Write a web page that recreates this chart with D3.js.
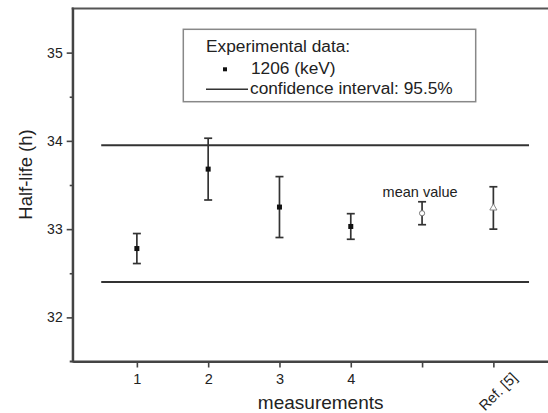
<!DOCTYPE html>
<html><head><meta charset="utf-8">
<script src="https://cdn.jsdelivr.net/npm/d3@7"></script>
<style>body{margin:0;background:#fff}svg{display:block}text{font-family:"Liberation Sans",Arial,sans-serif;fill:#222}</style>
</head><body><svg id="c" width="548" height="413"></svg>
<script>
// data
const measX = [1, 2, 3, 4];
const measY = [32.78, 33.68, 33.25, 33.03];
const measErr = [0.17, 0.35, 0.345, 0.145];
const meanX = [5]; const meanY = [33.18]; const meanErr = [0.13];
const refX = [6]; const refY = [33.24]; const refErr = [0.24];
const ciLevels = [33.95, 32.40];
const ciRange = [0.5, 6.5];
const xTickVals = [1, 2, 3, 4, 5, 6];
const xTickLabels = ["1", "2", "3", "4", "", "Ref. [5]"];
const yTickVals = [32, 33, 34, 35];
const yMinorVals = [32.5, 33.5, 34.5];

const svg = d3.select("#c");
const L = 72.7, T = 8.5, B = 361.5;
const x = d3.scaleLinear().domain([0.1, 6.9]).range([L, L + 6.8 * 71.3]);
const y = d3.scaleLinear().domain([31.5, 35.5]).range([B, T]);
const axCol = "#444";

// top frame
svg.append("line").attr("x1", L - 1).attr("x2", 560).attr("y1", T).attr("y2", T)
  .attr("stroke", "#555").attr("stroke-width", 2);

// y axis
const ya = svg.append("g").attr("transform", `translate(${L},0)`)
  .call(d3.axisLeft(y).tickValues(yTickVals).tickFormat(d3.format("d")).tickSize(6).tickSizeOuter(0).tickPadding(4));
ya.select(".domain").attr("stroke", axCol).attr("stroke-width", 2);
ya.selectAll(".tick line").attr("stroke", axCol).attr("stroke-width", 1.6);
ya.selectAll("text").style("font-size", "14px").attr("fill", "#333");
const ym = svg.append("g").attr("transform", `translate(${L},0)`)
  .call(d3.axisLeft(y).tickValues(yMinorVals).tickFormat("").tickSize(3).tickSizeOuter(0));
ym.select(".domain").remove();
ym.selectAll(".tick line").attr("stroke", axCol).attr("stroke-width", 1.6);
svg.append("line").attr("x1", L).attr("x2", L).attr("y1", T - 1).attr("y2", B + 1)
  .attr("stroke", axCol).attr("stroke-width", 2);

// x axis
const xa = svg.append("g").attr("transform", `translate(0,${B})`)
  .call(d3.axisBottom(x).tickValues(xTickVals).tickFormat((d, i) => xTickLabels[i]).tickSize(6).tickSizeOuter(0).tickPadding(6));
xa.select(".domain").attr("stroke", axCol).attr("stroke-width", 2);
xa.selectAll(".tick line").attr("stroke", axCol).attr("stroke-width", 1.6);
xa.selectAll("text").style("font-size", "14.5px").attr("fill", "#333");
xa.selectAll(".tick").filter(d => d === 6).select("text")
  .attr("text-anchor", "middle").attr("y", 0).attr("dy", "0.35em")
  .attr("transform", "translate(4,30) rotate(-45)");
svg.append("line").attr("x1", L - 3).attr("x2", 560).attr("y1", B).attr("y2", B)
  .attr("stroke", axCol).attr("stroke-width", 2);

// axis titles
svg.append("text").attr("x", 320.7).attr("y", 409).attr("text-anchor", "middle")
  .style("font-size", "19px").text("measurements");
svg.append("text").attr("transform", "translate(32,174.5) rotate(-90)").attr("text-anchor", "middle")
  .style("font-size", "18.5px").text("Half-life (h)");

// confidence lines
ciLevels.forEach(v => {
  svg.append("line").attr("x1", x(ciRange[0])).attr("x2", x(ciRange[1]))
    .attr("y1", y(v)).attr("y2", y(v)).attr("stroke", "#333").attr("stroke-width", 2);
});

function errBars(xs, ys, es, col) {
  xs.forEach((xv, i) => {
    const cx = x(xv), top = y(ys[i] + es[i]), bot = y(ys[i] - es[i]);
    svg.append("line").attr("x1", cx).attr("x2", cx).attr("y1", top).attr("y2", bot).attr("stroke", col).attr("stroke-width", 1.7);
    [top, bot].forEach(yy => svg.append("line").attr("x1", cx - 4).attr("x2", cx + 4).attr("y1", yy).attr("y2", yy).attr("stroke", col).attr("stroke-width", 1.7));
  });
}
errBars(measX, measY, measErr, "#333");
errBars(meanX, meanY, meanErr, "#333");
errBars(refX, refY, refErr, "#333");

measX.forEach((xv, i) => svg.append("rect").attr("x", x(xv) - 2.5).attr("y", y(measY[i]) - 2.5)
  .attr("width", 5).attr("height", 5).attr("fill", "#111"));
meanX.forEach((xv, i) => svg.append("circle").attr("cx", x(xv)).attr("cy", y(meanY[i])).attr("r", 2.6)
  .attr("fill", "#fff").attr("stroke", "#777").attr("stroke-width", 1));
refX.forEach((xv, i) => svg.append("path").attr("transform", `translate(${x(xv)},${y(refY[i])})`)
  .attr("d", d3.symbol(d3.symbolTriangle, 22)()).attr("fill", "#fff").attr("stroke", "#888").attr("stroke-width", 1));

svg.append("text").attr("x", x(5) - 2).attr("y", 196.5).attr("text-anchor", "middle")
  .style("font-size", "14.5px").text("mean value");

// legend
svg.append("rect").attr("x", 183.3).attr("y", 29.3).attr("width", 292.4).attr("height", 72.4)
  .attr("fill", "#fff").attr("stroke", "#888").attr("stroke-width", 1.5);
svg.append("text").attr("x", 206).attr("y", 52.3).style("font-size", "17.3px").text("Experimental data:");
svg.append("rect").attr("x", 223).attr("y", 67.3).attr("width", 4).attr("height", 4).attr("fill", "#111");
svg.append("text").attr("x", 251).attr("y", 74.3).style("font-size", "17.3px").text("1206 (keV)");
svg.append("line").attr("x1", 206).attr("x2", 248).attr("y1", 89.3).attr("y2", 89.3).attr("stroke", "#333").attr("stroke-width", 1.5);
svg.append("text").attr("x", 250).attr("y", 94).style("font-size", "17.3px").text("confidence interval: 95.5%");
</script></body></html>
